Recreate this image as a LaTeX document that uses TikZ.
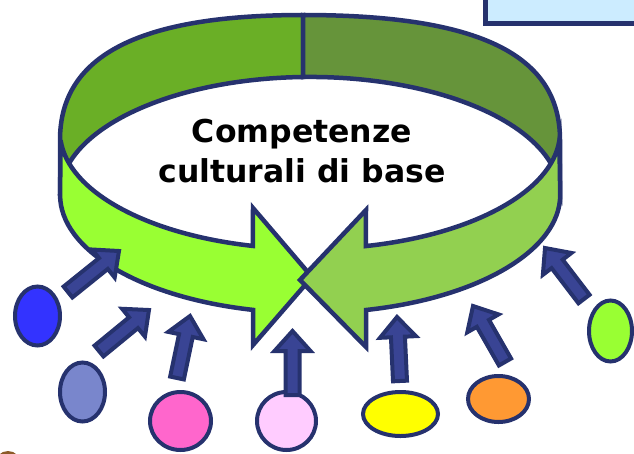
\documentclass[tikz,border=0pt]{standalone}
\usepackage{fontspec}
\setmainfont{DejaVu Sans}

\definecolor{ringline}{RGB}{38,50,110}
\definecolor{arrowfill}{RGB}{57,68,148}
\definecolor{backleft}{RGB}{106,175,38}
\definecolor{backright}{RGB}{102,148,58}
\definecolor{frontleft}{RGB}{153,255,51}
\definecolor{frontright}{RGB}{146,208,80}
\definecolor{boxfill}{RGB}{204,236,255}
\definecolor{ovblue}{RGB}{51,51,255}
\definecolor{ovlavender}{RGB}{121,134,204}
\definecolor{ovpink}{RGB}{255,102,204}
\definecolor{ovrose}{RGB}{255,204,255}
\definecolor{ovyellow}{RGB}{255,255,0}
\definecolor{ovorange}{RGB}{255,153,51}
\definecolor{ovgreen}{RGB}{153,255,51}
\definecolor{stub}{RGB}{140,90,40}

\tikzset{
  band/.style={draw=ringline, line width=4.5pt},
  oval/.style={ellipse, draw=ringline, line width=4pt, inner sep=0pt},
  blockarrow/.style={draw=ringline, fill=arrowfill, line width=4pt},
  title/.style={font=\fontsize{31.5}{40}\selectfont\bfseries, align=center, inner sep=0pt}
}

% block arrow from one coordinate to another
\newcommand\blockarrow[2]{%
  \path (#1); \pgfgetlastxy{\bax}{\bay}
  \path (#2); \pgfgetlastxy{\bbx}{\bby}
  \pgfmathsetmacro\barang{atan2(\bby-\bay,\bbx-\bax)}
  \pgfmathsetmacro\barlen{veclen(\bbx-\bax,\bby-\bay)}
  \draw[blockarrow, shift={(#1)}, rotate=\barang]
    (0,-7) -- (\barlen-20,-7) -- (\barlen-20,-18) -- (\barlen,0)
    -- (\barlen-20,18) -- (\barlen-20,7) -- (0,7) -- cycle;
}

\usetikzlibrary{shapes.geometric}

\begin{document}
\begin{tikzpicture}[x=1pt,y=-1pt]
\useasboundingbox (0,0) rectangle (634,453);
\clip (0,0) rectangle (634,453);

% Box in the corner
\draw[draw=ringline, fill=boxfill, line width=5pt] (485.5,-10) rectangle (650,23.5);

% Back of the band
\filldraw[band, fill=backleft] (60,195) -- (60,140) .. controls (60,55) and (140,15) .. (303,15)
  -- (303,77) arc[start angle=268.4, end angle=180, x radius=250, y radius=118] -- cycle;
\filldraw[band, fill=backright] (560,195) -- (560,140) .. controls (560,55) and (480,15) .. (303,15)
  -- (303,77) arc[start angle=268.4, end angle=360, x radius=250, y radius=118] -- cycle;
\draw[band] (303,15) -- (303,77);

% Front of the band: two arrows
\filldraw[band, fill=frontleft] (60.6,140.2) arc[start angle=176, end angle=103.2, x radius=250, y radius=117]
  -- (253,208) -- (312,277) -- (253,345) -- (253,309.9)
  arc[start angle=103.2, end angle=180, x radius=250, y radius=118] -- cycle;
\filldraw[band, fill=frontright] (559.4,140.2) arc[start angle=4, end angle=77.1, x radius=250, y radius=117]
  -- (366,210) -- (300,280) -- (366,347) -- (366,310)
  arc[start angle=77.1, end angle=0, x radius=250, y radius=118] -- cycle;

% Title
\node[title] (core) at (302,151) {Competenze\\culturali di base};

% Ovals
\node[oval, fill=ovblue, minimum width=45pt, minimum height=59pt] (o1) at (37.5,316) {};
\node[oval, fill=ovlavender, minimum width=45pt, minimum height=59pt] (o2) at (82.5,392) {};
\node[oval, fill=ovpink, minimum width=61pt, minimum height=58pt] (o3) at (180.5,421) {};
\node[oval, fill=ovrose, minimum width=59pt, minimum height=58pt] (o4) at (286.5,421) {};
\node[oval, fill=ovyellow, minimum width=75pt, minimum height=44pt] (o5) at (400.5,414) {};
\node[oval, fill=ovorange, minimum width=61pt, minimum height=46pt] (o6) at (498.5,399) {};
\node[oval, fill=ovgreen, minimum width=43pt, minimum height=61pt] (o7) at (610.5,331) {};
\fill[stub] (8,464) ellipse (13pt and 13pt);

% Arrows into the band
\coordinate (t1) at (68,292);    \coordinate (h1) at (119,251);
\coordinate (t2) at (99,351);    \coordinate (h2) at (149,310);
\coordinate (t3) at (177,378);   \coordinate (h3) at (190,316);
\coordinate (t4) at (292.5,395); \coordinate (h4) at (292.5,331);
\coordinate (t5) at (400,381);   \coordinate (h5) at (397,317);
\coordinate (t6) at (505,362);   \coordinate (h6) at (473,306);
\coordinate (t7) at (584,299);   \coordinate (h7) at (545,248);
\foreach \i in {1,...,7} {
  \blockarrow{t\i}{h\i}
}
\end{tikzpicture}
\end{document}
